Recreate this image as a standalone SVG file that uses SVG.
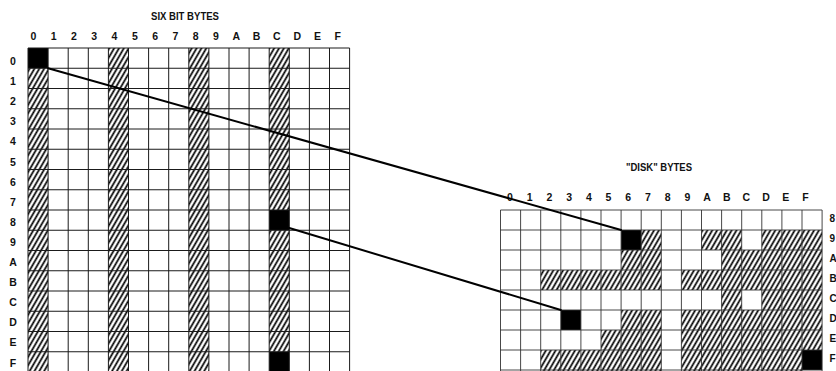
<svg xmlns="http://www.w3.org/2000/svg" width="836" height="371" viewBox="0 0 836 371">
<style>
.lbl{font-family:"Liberation Sans",Arial,sans-serif;font-weight:bold;font-size:10.5px;fill:#111;text-anchor:middle}
.rl{font-family:"Liberation Sans",Arial,sans-serif;font-weight:bold;font-size:10px;fill:#111;text-anchor:start}
.ttl{font-family:"Liberation Sans",Arial,sans-serif;font-weight:bold;font-size:10.5px;fill:#111;text-anchor:middle}
.grid{fill:none;stroke:#1a1a1a;stroke-width:1}
.gridr{fill:none;stroke:#333;stroke-width:0.9}
.hat{fill:url(#hatch)}
.blk{fill:#000}
.conn{fill:none;stroke:#000;stroke-width:2;stroke-linecap:round}
</style>
<defs>
<pattern id="hatch" patternUnits="userSpaceOnUse" width="4.2" height="10" patternTransform="rotate(30)">
<rect width="4.2" height="10" fill="#fff"/>
<line x1="1.2" y1="0" x2="1.2" y2="10" stroke="#000" stroke-width="1.7"/>
</pattern>
</defs>
<rect width="836" height="371" fill="#fff"/>

<g id="six-bit-bytes">
<text class="ttl" x="185" y="19.5" textLength="68" lengthAdjust="spacingAndGlyphs">SIX BIT BYTES</text>
<g id="six-bit-col-labels">
<text class="lbl" x="33.3" y="40">0</text><text class="lbl" x="53.6" y="40">1</text><text class="lbl" x="73.9" y="40">2</text><text class="lbl" x="94.2" y="40">3</text><text class="lbl" x="114.5" y="40">4</text><text class="lbl" x="134.8" y="40">5</text><text class="lbl" x="155.1" y="40">6</text><text class="lbl" x="175.4" y="40">7</text><text class="lbl" x="195.7" y="40">8</text><text class="lbl" x="216" y="40">9</text><text class="lbl" x="236.3" y="40">A</text><text class="lbl" x="256.6" y="40">B</text><text class="lbl" x="276.9" y="40">C</text><text class="lbl" x="297.2" y="40">D</text><text class="lbl" x="317.5" y="40">E</text><text class="lbl" x="337.8" y="40">F</text>
</g>
<g id="six-bit-row-labels">
<text class="lbl" x="13" y="65">0</text><text class="lbl" x="13" y="85.1">1</text><text class="lbl" x="13" y="105.2">2</text><text class="lbl" x="13" y="125.3">3</text><text class="lbl" x="13" y="145.4">4</text><text class="lbl" x="13" y="165.5">5</text><text class="lbl" x="13" y="185.6">6</text><text class="lbl" x="13" y="205.7">7</text><text class="lbl" x="13" y="225.8">8</text><text class="lbl" x="13" y="245.9">9</text><text class="lbl" x="13" y="266">A</text><text class="lbl" x="13" y="286.1">B</text><text class="lbl" x="13" y="306.2">C</text><text class="lbl" x="13" y="326.3">D</text><text class="lbl" x="13" y="346.4">E</text><text class="lbl" x="13" y="366.5">F</text>
</g>
<g id="six-bit-cells">
<rect class="hat" x="28" y="68.25" width="20.1" height="303.75"/>
<rect class="hat" x="108.4" y="48" width="20.1" height="324"/>
<rect class="hat" x="188.8" y="48" width="20.1" height="324"/>
<rect class="hat" x="269.2" y="48" width="20.1" height="162"/>
<rect class="hat" x="269.2" y="230.25" width="20.1" height="121.5"/>
<rect class="blk" x="28" y="48" width="20.1" height="20.25"/>
<rect class="blk" x="269.2" y="210" width="20.1" height="20.25"/>
<rect class="blk" x="269.2" y="351.75" width="20.1" height="20.25"/>
</g>
<path class="grid" d="M28 48V372M48.1 48V372M68.2 48V372M88.3 48V372M108.4 48V372M128.5 48V372M148.6 48V372M168.7 48V372M188.8 48V372M208.9 48V372M229 48V372M249.1 48V372M269.2 48V372M289.3 48V372M309.4 48V372M329.5 48V372M349.6 48V372M28 48H349.6M28 68.25H349.6M28 88.5H349.6M28 108.75H349.6M28 129H349.6M28 149.25H349.6M28 169.5H349.6M28 189.75H349.6M28 210H349.6M28 230.25H349.6M28 250.5H349.6M28 270.75H349.6M28 291H349.6M28 311.25H349.6M28 331.5H349.6M28 351.75H349.6"/>
</g>

<g id="disk-bytes">
<text class="ttl" x="659" y="171" textLength="66" lengthAdjust="spacingAndGlyphs">"DISK" BYTES</text>
<g id="disk-col-labels">
<text class="lbl" x="510" y="201">0</text><text class="lbl" x="529.7" y="201">1</text><text class="lbl" x="549.4" y="201">2</text><text class="lbl" x="569.1" y="201">3</text><text class="lbl" x="588.8" y="201">4</text><text class="lbl" x="608.5" y="201">5</text><text class="lbl" x="628.2" y="201">6</text><text class="lbl" x="647.9" y="201">7</text><text class="lbl" x="667.6" y="201">8</text><text class="lbl" x="687.3" y="201">9</text><text class="lbl" x="707" y="201">A</text><text class="lbl" x="726.7" y="201">B</text><text class="lbl" x="746.4" y="201">C</text><text class="lbl" x="766.1" y="201">D</text><text class="lbl" x="785.8" y="201">E</text><text class="lbl" x="805.5" y="201">F</text>
</g>
<g id="disk-row-labels">
<text class="rl" x="829.5" y="221.5">8</text><text class="rl" x="829.5" y="241.5">9</text><text class="rl" x="829.5" y="261.5">A</text><text class="rl" x="829.5" y="281.5">B</text><text class="rl" x="829.5" y="301.5">C</text><text class="rl" x="829.5" y="321.5">D</text><text class="rl" x="829.5" y="341.5">E</text><text class="rl" x="829.5" y="361.5">F</text>
</g>
<g id="disk-cells">
<rect class="hat" x="641.2" y="230" width="20.1" height="20"/>
<rect class="hat" x="701.5" y="230" width="40.2" height="20"/>
<rect class="hat" x="761.8" y="230" width="60.3" height="20"/>
<rect class="hat" x="621.1" y="250" width="40.2" height="20"/>
<rect class="hat" x="721.6" y="250" width="100.5" height="20"/>
<rect class="hat" x="540.7" y="270" width="120.6" height="20"/>
<rect class="hat" x="681.4" y="270" width="140.7" height="20"/>
<rect class="hat" x="721.6" y="290" width="20.1" height="20"/>
<rect class="hat" x="761.8" y="290" width="60.3" height="20"/>
<rect class="hat" x="621.1" y="310" width="40.2" height="20"/>
<rect class="hat" x="681.4" y="310" width="140.7" height="20"/>
<rect class="hat" x="601" y="330" width="60.3" height="20"/>
<rect class="hat" x="681.4" y="330" width="140.7" height="20"/>
<rect class="hat" x="540.7" y="350" width="120.6" height="21"/>
<rect class="hat" x="681.4" y="350" width="120.6" height="21"/>
<rect class="blk" x="621.1" y="230" width="20.1" height="20"/>
<rect class="blk" x="560.8" y="310" width="20.1" height="20"/>
<rect class="blk" x="802" y="350" width="20.1" height="20"/>
</g>
<path class="gridr" d="M500.5 210V372M520.6 210V372M540.7 210V372M560.8 210V372M580.9 210V372M601 210V372M621.1 210V372M641.2 210V372M661.3 210V372M681.4 210V372M701.5 210V372M721.6 210V372M741.7 210V372M761.8 210V372M781.9 210V372M802 210V372M822.1 210V372M500.5 210H822.1M500.5 230H822.1M500.5 250H822.1M500.5 270H822.1M500.5 290H822.1M500.5 310H822.1M500.5 330H822.1M500.5 350H822.1M500.5 370H822.1"/>
</g>

<g id="connectors">
<path class="conn" d="M48.1 68.25L621.1 230"/>
<path class="conn" d="M289.3 228L560.8 310"/>
</g>
</svg>
